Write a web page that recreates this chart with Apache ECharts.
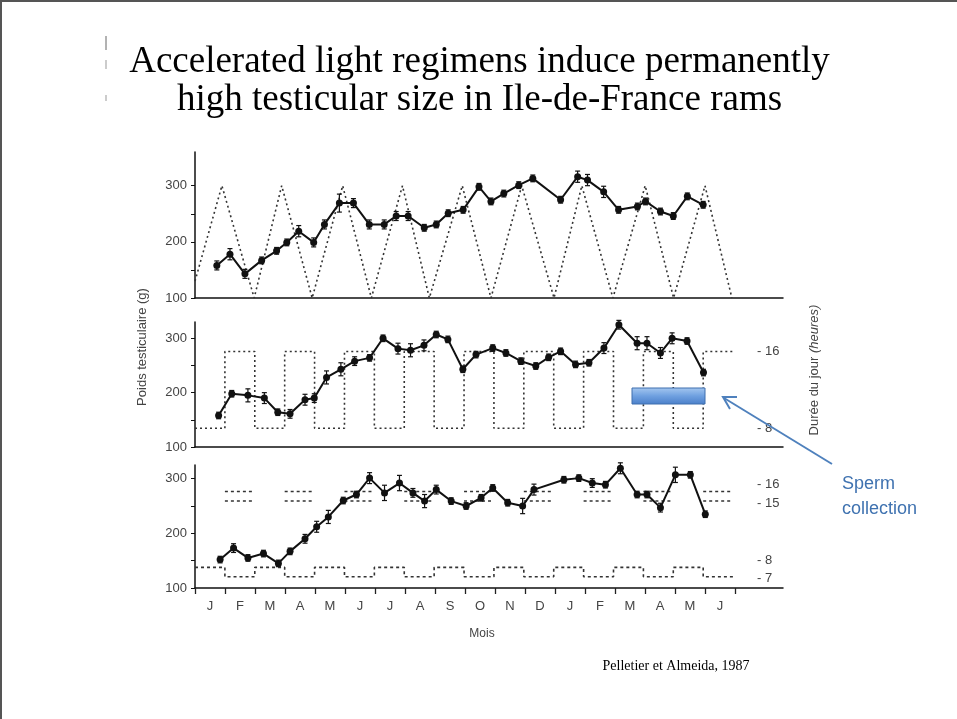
<!DOCTYPE html>
<html>
<head>
<meta charset="utf-8">
<script src="https://cdn.jsdelivr.net/npm/echarts@6.0.0/dist/echarts.min.js"></script>
<style>
  html, body { margin: 0; padding: 0; background: #fff; }
  #chart { width: 957px; height: 719px; box-sizing: border-box; border-top: 2px solid #555; border-left: 2px solid #555; }
</style>
</head>
<body>
<div id="chart"></div>
<script>
// mois (axe du bas)
const months = ['J', 'F', 'M', 'A', 'M', 'J', 'J', 'A', 'S', 'O', 'N', 'D', 'J', 'F', 'M', 'A', 'M', 'J'];

// panneau 1 : poids testiculaire (g), x en mois depuis début janvier
const m1 = [0.73, 1.17, 1.67, 2.23, 2.73, 3.07, 3.47, 3.97, 4.33, 4.83, 5.3, 5.83, 6.33, 6.73, 7.13, 7.67, 8.07, 8.47,
  8.97, 9.5, 9.9, 10.33, 10.83, 11.3, 12.23, 12.8, 13.13, 13.67, 14.17, 14.8, 15.07, 15.57, 16.0, 16.47, 17.0];
const w1 = [158, 178, 143, 167, 184, 199, 219, 199, 231, 269, 269, 231, 231, 246, 246, 225, 231, 251,
  257, 298, 272, 286, 301, 313, 275, 316, 310, 289, 257, 263, 272, 254, 246, 281, 266];
const se1 = [8, 10, 8, 6, 6, 6, 10, 8, 8, 16, 8, 8, 8, 8, 8, 6, 6, 6,
  6, 6, 6, 6, 6, 6, 6, 10, 10, 10, 6, 6, 6, 6, 6, 6, 6];
// panneau 1 : durée du jour (h), cycle triangulaire
const lt1 = [0, 0.9, 1.98, 2.9, 3.92, 4.94, 5.9, 6.94, 7.84, 8.94, 9.9, 10.93, 12.01, 12.94, 13.98, 15.06, 16.01, 17.06, 17.96];
const lh1 = [9.2, 16, 8, 16, 8, 16, 8, 16, 8, 16, 8, 16, 8, 16, 8, 16, 8, 16, 8];

// panneau 2
const m2 = [0.79, 1.23, 1.77, 2.32, 2.77, 3.18, 3.68, 3.99, 4.4, 4.88, 5.34, 5.84, 6.29, 6.79, 7.21, 7.66, 8.07, 8.46,
  8.96, 9.4, 9.96, 10.4, 10.9, 11.4, 11.83, 12.23, 12.73, 13.18, 13.68, 14.18, 14.79, 15.12, 15.57, 15.96, 16.46, 17.01];
const w2 = [158, 198, 195, 190, 164, 161, 187, 190, 228, 243, 258, 264, 300, 281, 278, 287, 307, 298,
  243, 270, 282, 273, 258, 249, 265, 276, 252, 255, 282, 325, 291, 291, 273, 300, 295, 237];
const se2 = [6, 6, 12, 10, 6, 8, 10, 8, 12, 12, 8, 6, 6, 10, 12, 10, 6, 6,
  6, 6, 6, 6, 6, 6, 6, 6, 6, 6, 10, 8, 12, 12, 10, 10, 6, 6];
// panneau 2 : durée du jour par mois (1 mois JC / 1 mois JL)
const day2 = [8, 16, 8, 16, 8, 16, 8, 16, 8, 16, 8, 16, 8, 16, 8, 16, 8, 16];

// panneau 3
const m3 = [0.84, 1.29, 1.77, 2.29, 2.79, 3.18, 3.68, 4.07, 4.46, 4.96, 5.4, 5.84, 6.34, 6.84, 7.29, 7.68, 8.07, 8.57,
  9.07, 9.57, 9.96, 10.46, 10.96, 11.34, 12.34, 12.84, 13.29, 13.73, 14.23, 14.79, 15.12, 15.57, 16.07, 16.57, 17.07];
const w3 = [152, 173, 155, 163, 145, 167, 190, 212, 230, 260, 271, 301, 274, 292, 274, 259, 280, 259,
  250, 265, 283, 256, 250, 280, 298, 301, 292, 289, 319, 271, 271, 247, 307, 307, 235];
const se3 = [6, 8, 6, 6, 6, 6, 8, 10, 12, 6, 6, 10, 14, 14, 8, 12, 8, 6,
  6, 6, 6, 6, 14, 10, 6, 6, 8, 6, 10, 6, 6, 8, 14, 6, 6];
// panneau 3 : traits du bas (8 / 7 h) et paires du haut (16 et 15 h)
const low3 = [8, 7, 8, 7, 8, 7, 8, 7, 8, 7, 8, 7, 8, 7, 8, 7, 8, 7];
const up16 = [null, 16, null, 16, null, 16, null, 16, null, 16, null, 16, null, 16, null, 16, null, 16];
const up15 = [null, 15, null, 15, null, 15, null, 15, null, 15, null, 15, null, 15, null, 15, null, 15];

const zip = (xs, ys) => xs.map((x, i) => [x, ys[i]]);
const zip3 = (xs, ys, es) => xs.map((x, i) => [x, ys[i], es[i]]);
const steps = (vals) => {
  const out = [];
  vals.forEach((v, k) => { out.push([k, v]); out.push([k + 1, v]); });
  return out;
};
const segs = (vals) => {
  const out = [];
  vals.forEach((v, k) => { if (v != null) { out.push([k, v]); out.push([k + 1, v]); out.push([k + 1, null]); } });
  return out;
};

const grey = '#444';
const axisFont = { color: grey, fontSize: 13, fontFamily: 'Liberation Sans, Arial, sans-serif' };
const serif = '"Liberation Serif", "Times New Roman", serif';
const XMAX = 19.67;

function weightAxis(grid, max) {
  return {
    gridIndex: grid, type: 'value', min: 100, max: max, position: 'left',
    axisLine: { show: true, lineStyle: { color: '#111', width: 1.5 } },
    axisTick: { show: true, length: 4, customValues: [100, 150, 200, 250, 300], lineStyle: { color: '#111' } },
    axisLabel: Object.assign({ customValues: [100, 200, 300], margin: 8 }, axisFont),
    splitLine: { show: false }
  };
}
function dataX(grid) {
  return {
    gridIndex: grid, type: 'value', min: 0, max: XMAX,
    axisLine: { show: true, onZero: false, lineStyle: { color: '#111', width: 1.5 } },
    axisTick: { show: false }, axisLabel: { show: false }, splitLine: { show: false }
  };
}
function errSeries(x, y, data) {
  return {
    type: 'custom', xAxisIndex: x, yAxisIndex: y, data: data, z: 3, silent: true,
    renderItem: (params, api) => {
      const t = api.coord([api.value(0), api.value(1) + api.value(2)]);
      const b = api.coord([api.value(0), api.value(1) - api.value(2)]);
      const st = { stroke: '#111', lineWidth: 1.2 };
      return { type: 'group', children: [
        { type: 'line', shape: { x1: t[0], y1: t[1], x2: b[0], y2: b[1] }, style: st },
        { type: 'line', shape: { x1: t[0] - 2.5, y1: t[1], x2: t[0] + 2.5, y2: t[1] }, style: st },
        { type: 'line', shape: { x1: b[0] - 2.5, y1: b[1], x2: b[0] + 2.5, y2: b[1] }, style: st }
      ] };
    }
  };
}
function weightSeries(x, y, data) {
  return {
    type: 'line', xAxisIndex: x, yAxisIndex: y, data: data, z: 4,
    symbol: 'circle', symbolSize: 7, itemStyle: { color: '#111' },
    lineStyle: { color: '#111', width: 2 }
  };
}
function lightSeries(x, y, data, type) {
  return {
    type: 'line', xAxisIndex: x, yAxisIndex: y, data: data, z: 2, symbol: 'none',
    connectNulls: false,
    lineStyle: { color: '#333', width: 1.6, type: type }
  };
}

const chart = echarts.init(document.getElementById('chart'));
chart.setOption({
  backgroundColor: '#fff',
  animation: false,
  grid: [
    { left: 193, right: 174, top: 150, bottom: 421 },
    { left: 193, right: 174, top: 320, bottom: 272 },
    { left: 193, right: 174, top: 463, bottom: 131 },
    { left: 193, width: 540, top: 463, bottom: 131 }
  ],
  xAxis: [
    dataX(0), dataX(1), dataX(2),
    {
      gridIndex: 3, type: 'category', data: months, boundaryGap: true, position: 'bottom',
      axisLine: { show: false },
      axisTick: { show: true, length: 6, lineStyle: { color: '#222', width: 1.3 } },
      axisLabel: Object.assign({ margin: 12, interval: 0 }, axisFont),
      splitLine: { show: false }
    }
  ],
  yAxis: [
    weightAxis(0, 360),
    { gridIndex: 0, type: 'value', min: 8, max: 18.4, show: false },
    weightAxis(1, 330),
    {
      gridIndex: 1, type: 'value', min: 6.05, max: 19.08, position: 'right', offset: -26,
      axisLine: { show: false }, axisTick: { show: false }, splitLine: { show: false },
      axisLabel: Object.assign({ customValues: [8, 16], margin: 0, formatter: v => '- ' + v }, axisFont)
    },
    weightAxis(2, 325),
    {
      gridIndex: 2, type: 'value', min: 5.82, max: 18.8, position: 'right', offset: -26,
      axisLine: { show: false }, axisTick: { show: false }, splitLine: { show: false },
      axisLabel: Object.assign({
        customValues: [7, 8, 15, 16], margin: 0,
        formatter: v => (v === 16 || v === 8) ? '{up|- ' + v + '}' : '{dn|- ' + v + '}',
        rich: {
          up: Object.assign({ padding: [0, 0, 14, 0] }, axisFont),
          dn: Object.assign({ padding: [4, 0, 0, 0] }, axisFont)
        }
      }, axisFont)
    },
    { gridIndex: 3, type: 'value', show: false }
  ],
  series: [
    lightSeries(0, 1, zip(lt1, lh1), [2, 3]),
    errSeries(0, 0, zip3(m1, w1, se1)),
    weightSeries(0, 0, zip(m1, w1)),

    lightSeries(1, 3, steps(day2), [2, 3]),
    errSeries(1, 2, zip3(m2, w2, se2)),
    weightSeries(1, 2, zip(m2, w2)),

    lightSeries(2, 5, steps(low3), [3, 3]),
    lightSeries(2, 5, segs(up16), [3, 3]),
    lightSeries(2, 5, segs(up15), [3, 3]),
    errSeries(2, 4, zip3(m3, w3, se3)),
    weightSeries(2, 4, zip(m3, w3))
  ],
  graphic: [
    { type: 'text', left: 'center', top: 42, style: { text: 'Accelerated light regimens induce permanently', font: '37px ' + serif, fill: '#000' } },
    { type: 'text', left: 'center', top: 80, style: { text: 'high testicular size in Ile-de-France rams', font: '37px ' + serif, fill: '#000' } },
    { type: 'line', shape: { x1: 104, y1: 34, x2: 104, y2: 48 }, style: { stroke: '#666', lineWidth: 1 } },
    { type: 'line', shape: { x1: 104, y1: 58, x2: 104, y2: 67 }, style: { stroke: '#999', lineWidth: 1 } },
    { type: 'line', shape: { x1: 104, y1: 93, x2: 104, y2: 99 }, style: { stroke: '#999', lineWidth: 1 } },
    { type: 'text', x: 140, y: 345, rotation: Math.PI / 2, style: { text: 'Poids testiculaire (g)', font: '13px "Liberation Sans", Arial, sans-serif', fill: grey, align: 'center', verticalAlign: 'middle' } },
    {
      type: 'text', x: 812, y: 368, rotation: Math.PI / 2,
      style: {
        text: '{n|Durée du jour }{i|(heures)}', align: 'center', verticalAlign: 'middle',
        rich: {
          n: { font: '13px "Liberation Sans", Arial, sans-serif', fill: grey },
          i: { font: 'italic 13px "Liberation Sans", Arial, sans-serif', fill: grey }
        }
      }
    },
    { type: 'text', x: 480, y: 632, style: { text: 'Mois', font: '12px "Liberation Sans", Arial, sans-serif', fill: grey, align: 'center', verticalAlign: 'middle' } },
    { type: 'text', x: 674, y: 664, style: { text: 'Pelletier et Almeida, 1987', font: '14px ' + serif, fill: '#000', align: 'center', verticalAlign: 'middle' } },
    {
      type: 'rect', shape: { x: 630, y: 386, width: 73, height: 16 }, z: 10,
      style: {
        fill: new echarts.graphic.LinearGradient(0, 0, 0, 1, [{ offset: 0, color: '#a6c8f0' }, { offset: 0.5, color: '#6fa0e0' }, { offset: 1, color: '#4a7fc9' }]),
        stroke: '#3f6fae', lineWidth: 1
      }
    },
    { type: 'line', shape: { x1: 830, y1: 462, x2: 722, y2: 396 }, z: 10, style: { stroke: '#4f81bd', lineWidth: 2 } },
    { type: 'polyline', shape: { points: [[735, 395], [721, 395], [728, 407]] }, z: 10, style: { stroke: '#4f81bd', lineWidth: 2, fill: null } },
    { type: 'text', x: 840, y: 482, style: { text: 'Sperm', font: '18px "Liberation Sans", Arial, sans-serif', fill: '#3f72b0', verticalAlign: 'middle' } },
    { type: 'text', x: 840, y: 507, style: { text: 'collection', font: '18px "Liberation Sans", Arial, sans-serif', fill: '#3f72b0', verticalAlign: 'middle' } }
  ]
});
</script>
</body>
</html>
